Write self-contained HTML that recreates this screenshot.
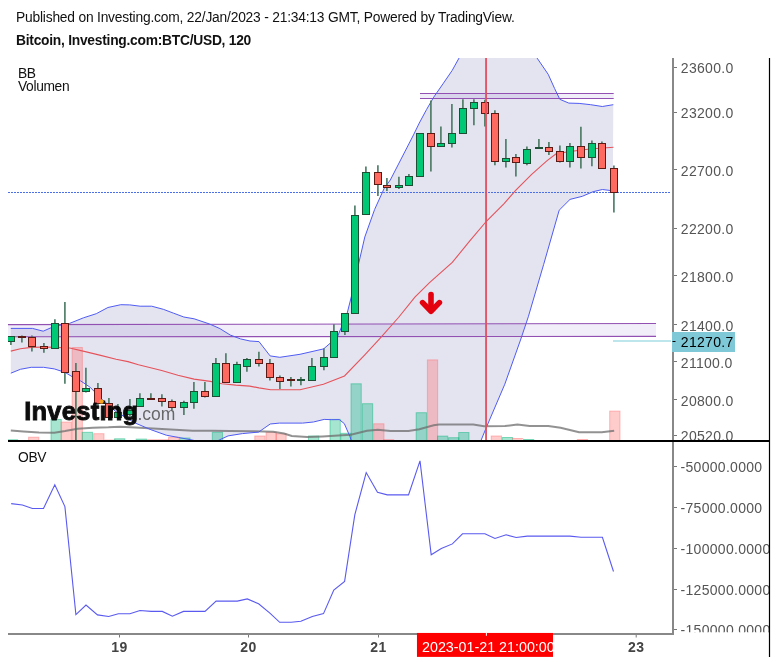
<!DOCTYPE html>
<html><head><meta charset="utf-8"><style>
html,body{margin:0;padding:0;background:#fff;width:777px;height:662px;overflow:hidden;font-family:"Liberation Sans",sans-serif;}
.t{position:absolute;will-change:transform;left:16px;font-size:13.33px;color:#111;white-space:nowrap;line-height:1}
.l{position:absolute;will-change:transform;left:18px;font-size:13.8px;letter-spacing:-0.35px;color:#111;line-height:1}
</style></head><body>
<div class="t" style="top:11px;font-size:13.8px;letter-spacing:-0.2px">Published on Investing.com, 22/Jan/2023 - 21:34:13 GMT, Powered by TradingView.</div>
<div class="t" style="top:34px;font-weight:bold;font-size:13.8px;letter-spacing:-0.25px">Bitcoin, Investing.com:BTC/USD, 120</div>
<svg width="777" height="662" viewBox="0 0 777 662" style="position:absolute;left:0;top:0;will-change:transform">
<defs><clipPath id="mp"><rect x="8" y="58" width="664" height="382"/></clipPath>
<clipPath id="op"><rect x="8" y="442" width="664" height="191"/></clipPath>
<clipPath id="ax1"><rect x="674" y="58" width="95" height="382"/></clipPath>
<clipPath id="ax2"><rect x="674" y="442" width="95" height="190.3"/></clipPath></defs>
<g clip-path="url(#mp)">
<polygon points="10.8,328.4 32.4,328.4 43.2,331.2 50.2,328.1 56.0,326.0 69.3,323.5 83.5,317.8 96.3,313.7 107.9,307.5 120.8,304.7 129.8,304.9 140.1,306.2 151.7,306.2 163.3,309.3 173.6,313.2 183.8,317.0 194.1,318.8 209.6,324.0 219.9,328.6 230.2,335.0 240.5,338.9 250.0,341.0 259.0,341.6 270.1,355.9 279.8,357.3 300.0,354.3 323.6,348.9 337.3,337.1 347.1,313.5 353.0,290.0 358.9,262.5 364.8,237.0 374.6,209.5 384.4,187.9 390.3,180.0 413.5,134.9 419.3,123.0 426.5,109.6 433.7,97.2 443.0,83.8 452.2,70.4 459.0,58.1 470.0,40.0 484.0,28.0 500.0,24.0 515.0,30.0 527.0,42.0 537.1,58.1 548.2,74.3 554.6,88.5 559.8,99.3 568.8,103.1 579.1,103.4 590.7,104.7 602.3,106.5 613.3,104.7 612.8,190.8 602.4,189.5 593.1,191.7 582.3,196.3 570.0,199.4 559.2,210.2 543.7,264.3 528.3,316.8 520.5,340.0 504.8,384.2 486.3,427.5 481.2,440.0 470.0,480.0 440.0,520.0 400.0,520.0 370.0,490.0 356.0,455.0 350.0,436.7 344.3,423.6 339.3,419.6 331.9,419.7 324.2,419.4 313.4,422.0 302.6,423.1 279.4,423.1 270.2,424.0 258.6,432.1 242.4,433.6 228.1,435.9 215.0,442.0 204.0,443.0 192.6,440.1 178.7,437.5 166.3,435.2 150.9,429.7 135.4,423.1 116.1,411.8 109.9,406.4 100.7,397.9 89.9,387.1 80.6,380.9 72.9,377.1 65.1,372.4 54.3,368.9 43.5,367.3 31.2,367.3 20.4,369.3 10.8,373.2" fill="#e4e4f1"/>
<polygon points="8,324.6 656,323.5 656,336.4 8,336.8" fill="rgba(103,58,183,0.09)"/>
<rect x="420" y="94" width="193.7" height="4" fill="rgba(103,58,183,0.09)"/>
<line x1="8" y1="324.6" x2="656" y2="323.5" stroke="#9250b2" stroke-width="1.1"/>
<line x1="8" y1="336.8" x2="656" y2="336.4" stroke="#9250b2" stroke-width="1.1"/>
<line x1="420" y1="93.5" x2="613.7" y2="93.5" stroke="#9250b2" stroke-width="1.1"/>
<line x1="420" y1="98.5" x2="613.7" y2="98.5" stroke="#9250b2" stroke-width="1.1"/>
<rect x="7.40" y="439.8" width="10.26" height="0.7" fill="rgba(0,180,120,0.35)" stroke="rgba(0,180,120,0.45)" stroke-width="1"/>
<rect x="28.60" y="437.2" width="10.26" height="3.3" fill="rgba(255,110,110,0.35)" stroke="rgba(255,110,110,0.45)" stroke-width="1"/>
<rect x="51.00" y="419.5" width="10.26" height="21.0" fill="rgba(0,180,120,0.35)" stroke="rgba(0,180,120,0.45)" stroke-width="1"/>
<rect x="61.10" y="422.1" width="10.26" height="18.4" fill="rgba(255,110,110,0.35)" stroke="rgba(255,110,110,0.45)" stroke-width="1"/>
<rect x="72.10" y="347.5" width="10.26" height="93.0" fill="rgba(255,110,110,0.35)" stroke="rgba(255,110,110,0.45)" stroke-width="1"/>
<rect x="82.20" y="432.3" width="10.26" height="8.2" fill="rgba(0,180,120,0.35)" stroke="rgba(0,180,120,0.45)" stroke-width="1"/>
<rect x="93.70" y="433.7" width="10.26" height="6.8" fill="rgba(255,110,110,0.35)" stroke="rgba(255,110,110,0.45)" stroke-width="1"/>
<rect x="104.90" y="440.0" width="10.26" height="0.5" fill="rgba(255,110,110,0.35)" stroke="rgba(255,110,110,0.45)" stroke-width="1"/>
<rect x="114.60" y="438.8" width="10.26" height="1.7" fill="rgba(0,180,120,0.35)" stroke="rgba(0,180,120,0.45)" stroke-width="1"/>
<rect x="136.20" y="439.1" width="10.26" height="1.4" fill="rgba(0,180,120,0.35)" stroke="rgba(0,180,120,0.45)" stroke-width="1"/>
<rect x="147.40" y="439.8" width="10.26" height="0.7" fill="rgba(255,110,110,0.35)" stroke="rgba(255,110,110,0.45)" stroke-width="1"/>
<rect x="158.50" y="439.8" width="10.26" height="0.7" fill="rgba(255,110,110,0.35)" stroke="rgba(255,110,110,0.45)" stroke-width="1"/>
<rect x="168.60" y="437.2" width="10.26" height="3.3" fill="rgba(255,110,110,0.35)" stroke="rgba(255,110,110,0.45)" stroke-width="1"/>
<rect x="179.70" y="438.0" width="10.26" height="2.5" fill="rgba(0,180,120,0.35)" stroke="rgba(0,180,120,0.45)" stroke-width="1"/>
<rect x="212.30" y="432.3" width="10.26" height="8.2" fill="rgba(0,180,120,0.35)" stroke="rgba(0,180,120,0.45)" stroke-width="1"/>
<rect x="254.80" y="436.0" width="10.26" height="4.5" fill="rgba(255,110,110,0.35)" stroke="rgba(255,110,110,0.45)" stroke-width="1"/>
<rect x="266.10" y="432.3" width="10.26" height="8.2" fill="rgba(255,110,110,0.35)" stroke="rgba(255,110,110,0.45)" stroke-width="1"/>
<rect x="275.90" y="433.8" width="10.26" height="6.7" fill="rgba(255,110,110,0.35)" stroke="rgba(255,110,110,0.45)" stroke-width="1"/>
<rect x="308.50" y="436.0" width="10.26" height="4.5" fill="rgba(0,180,120,0.35)" stroke="rgba(0,180,120,0.45)" stroke-width="1"/>
<rect x="330.00" y="419.4" width="10.26" height="21.1" fill="rgba(0,180,120,0.35)" stroke="rgba(0,180,120,0.45)" stroke-width="1"/>
<rect x="340.80" y="433.3" width="10.26" height="7.2" fill="rgba(0,180,120,0.35)" stroke="rgba(0,180,120,0.45)" stroke-width="1"/>
<rect x="351.00" y="383.8" width="10.26" height="56.7" fill="rgba(0,180,120,0.35)" stroke="rgba(0,180,120,0.45)" stroke-width="1"/>
<rect x="362.40" y="403.7" width="10.26" height="36.8" fill="rgba(0,180,120,0.35)" stroke="rgba(0,180,120,0.45)" stroke-width="1"/>
<rect x="373.70" y="423.8" width="10.26" height="16.7" fill="rgba(255,110,110,0.35)" stroke="rgba(255,110,110,0.45)" stroke-width="1"/>
<rect x="383.50" y="439.7" width="10.26" height="0.8" fill="rgba(255,110,110,0.35)" stroke="rgba(255,110,110,0.45)" stroke-width="1"/>
<rect x="416.20" y="412.7" width="10.26" height="27.8" fill="rgba(0,180,120,0.35)" stroke="rgba(0,180,120,0.45)" stroke-width="1"/>
<rect x="427.40" y="359.9" width="10.26" height="80.6" fill="rgba(255,110,110,0.35)" stroke="rgba(255,110,110,0.45)" stroke-width="1"/>
<rect x="437.50" y="436.1" width="10.26" height="4.4" fill="rgba(0,180,120,0.35)" stroke="rgba(0,180,120,0.45)" stroke-width="1"/>
<rect x="448.60" y="437.7" width="10.26" height="2.8" fill="rgba(0,180,120,0.35)" stroke="rgba(0,180,120,0.45)" stroke-width="1"/>
<rect x="458.70" y="432.5" width="10.26" height="8.0" fill="rgba(0,180,120,0.35)" stroke="rgba(0,180,120,0.45)" stroke-width="1"/>
<rect x="491.20" y="436.0" width="10.26" height="4.5" fill="rgba(255,110,110,0.35)" stroke="rgba(255,110,110,0.45)" stroke-width="1"/>
<rect x="502.30" y="437.5" width="10.26" height="3.0" fill="rgba(0,180,120,0.35)" stroke="rgba(0,180,120,0.45)" stroke-width="1"/>
<rect x="512.40" y="438.5" width="10.26" height="2.0" fill="rgba(255,110,110,0.35)" stroke="rgba(255,110,110,0.45)" stroke-width="1"/>
<rect x="523.50" y="439.5" width="10.26" height="1.0" fill="rgba(0,180,120,0.35)" stroke="rgba(0,180,120,0.45)" stroke-width="1"/>
<rect x="577.30" y="439.5" width="10.26" height="1.0" fill="rgba(255,110,110,0.35)" stroke="rgba(255,110,110,0.45)" stroke-width="1"/>
<rect x="609.70" y="411.1" width="10.26" height="29.4" fill="rgba(255,110,110,0.35)" stroke="rgba(255,110,110,0.45)" stroke-width="1"/>
<polyline points="10.8,430.4 23.4,431.4 38.9,432.4 54.3,432.7 65.1,431.1 77.5,428.8 92.9,427.7 108.4,427.3 120.0,426.7 135.4,427.4 166.3,429.3 192.6,430.8 212.7,430.8 230.0,431.0 253.2,431.3 273.2,431.8 284.0,433.6 291.8,436.0 307.2,437.0 322.7,436.4 338.1,435.5 350.8,434.7 367.0,430.7 377.8,429.8 390.5,431.1 408.5,431.1 419.3,429.3 433.7,425.3 439.0,424.5 448.1,424.4 473.3,424.4 484.0,426.3 505.0,426.0 517.4,424.6 529.7,426.0 548.3,426.0 560.6,427.7 579.1,432.2 601.8,432.2 614.2,430.8" fill="none" stroke="rgba(110,110,110,0.75)" stroke-width="2"/>
<polyline points="10.8,328.4 32.4,328.4 43.2,331.2 50.2,328.1 56.0,326.0 69.3,323.5 83.5,317.8 96.3,313.7 107.9,307.5 120.8,304.7 129.8,304.9 140.1,306.2 151.7,306.2 163.3,309.3 173.6,313.2 183.8,317.0 194.1,318.8 209.6,324.0 219.9,328.6 230.2,335.0 240.5,338.9 250.0,341.0 259.0,341.6 270.1,355.9 279.8,357.3 300.0,354.3 323.6,348.9 337.3,337.1 347.1,313.5 353.0,290.0 358.9,262.5 364.8,237.0 374.6,209.5 384.4,187.9 390.3,180.0 413.5,134.9 419.3,123.0 426.5,109.6 433.7,97.2 443.0,83.8 452.2,70.4 459.0,58.1 470.0,40.0 484.0,28.0 500.0,24.0 515.0,30.0 527.0,42.0 537.1,58.1 548.2,74.3 554.6,88.5 559.8,99.3 568.8,103.1 579.1,103.4 590.7,104.7 602.3,106.5 613.3,104.7" fill="none" stroke="#4f5bf2" stroke-width="1"/>
<polyline points="10.8,373.2 20.4,369.3 31.2,367.3 43.5,367.3 54.3,368.9 65.1,372.4 72.9,377.1 80.6,380.9 89.9,387.1 100.7,397.9 109.9,406.4 116.1,411.8 135.4,423.1 150.9,429.7 166.3,435.2 178.7,437.5 192.6,440.1 204.0,443.0 215.0,442.0 228.1,435.9 242.4,433.6 258.6,432.1 270.2,424.0 279.4,423.1 302.6,423.1 313.4,422.0 324.2,419.4 331.9,419.7 339.3,419.6 344.3,423.6 350.0,436.7 356.0,455.0 370.0,490.0 400.0,520.0 440.0,520.0 470.0,480.0 481.2,440.0 486.3,427.5 504.8,384.2 520.5,340.0 528.3,316.8 543.7,264.3 559.2,210.2 570.0,199.4 582.3,196.3 593.1,191.7 602.4,189.5 612.8,190.8" fill="none" stroke="#4f5bf2" stroke-width="1"/>
<polyline points="10.8,351.1 20.4,348.8 31.2,347.4 46.6,347.0 69.8,348.0 85.2,351.6 100.7,355.4 116.1,359.3 128.0,361.6 138.5,364.7 161.7,370.5 177.9,375.2 194.1,379.1 210.3,381.4 221.9,383.7 235.8,385.1 249.7,386.1 259.0,387.9 270.6,389.8 300.0,389.8 323.4,384.2 344.5,376.0 364.8,354.8 380.0,338.4 398.5,317.5 414.9,297.2 429.8,282.3 452.3,262.4 469.6,241.1 486.6,221.0 503.6,204.1 515.9,190.2 531.4,174.7 546.8,160.8 556.1,153.7 570.0,151.5 590.0,149.0 613.5,147.3" fill="none" stroke="#e5535a" stroke-width="1.1"/>
<line x1="8" y1="192.5" x2="670.5" y2="192.5" stroke="#4a6fe6" stroke-width="1" stroke-dasharray="2,1"/>
<line x1="10.9" y1="335.9" x2="10.9" y2="345.1" stroke="#477760" stroke-width="1.6"/>
<rect x="7.5" y="336.5" width="7" height="5.0" fill="#00c875" stroke="#1c4f33" stroke-width="1"/>
<line x1="21.9" y1="335.5" x2="21.9" y2="342.5" stroke="#477760" stroke-width="1.6"/>
<rect x="18.5" y="336.5" width="7" height="1.0" fill="#fe6960" stroke="#5c1a15" stroke-width="1"/>
<line x1="31.9" y1="335.5" x2="31.9" y2="351.6" stroke="#477760" stroke-width="1.6"/>
<rect x="28.5" y="337.5" width="7" height="9.0" fill="#fe6960" stroke="#5c1a15" stroke-width="1"/>
<line x1="43.9" y1="343.1" x2="43.9" y2="352.8" stroke="#477760" stroke-width="1.6"/>
<rect x="40.5" y="346.5" width="7" height="2.0" fill="#fe6960" stroke="#5c1a15" stroke-width="1"/>
<line x1="54.9" y1="319.3" x2="54.9" y2="348.4" stroke="#477760" stroke-width="1.6"/>
<rect x="51.5" y="323.5" width="7" height="25.0" fill="#00c875" stroke="#1c4f33" stroke-width="1"/>
<line x1="64.9" y1="301.9" x2="64.9" y2="383.8" stroke="#477760" stroke-width="1.6"/>
<rect x="61.5" y="323.5" width="7" height="49.0" fill="#fe6960" stroke="#5c1a15" stroke-width="1"/>
<line x1="75.9" y1="362.9" x2="75.9" y2="440.0" stroke="#477760" stroke-width="1.6"/>
<rect x="72.5" y="371.5" width="7" height="20.0" fill="#fe6960" stroke="#5c1a15" stroke-width="1"/>
<line x1="85.9" y1="367.8" x2="85.9" y2="392.4" stroke="#477760" stroke-width="1.6"/>
<rect x="82.5" y="388.5" width="7" height="3.0" fill="#00c875" stroke="#1c4f33" stroke-width="1"/>
<line x1="97.9" y1="382.9" x2="97.9" y2="406.0" stroke="#477760" stroke-width="1.6"/>
<rect x="94.5" y="388.5" width="7" height="15.0" fill="#fe6960" stroke="#5c1a15" stroke-width="1"/>
<line x1="108.9" y1="398.1" x2="108.9" y2="420.0" stroke="#477760" stroke-width="1.6"/>
<rect x="105.5" y="403.5" width="7" height="14.0" fill="#fe6960" stroke="#5c1a15" stroke-width="1"/>
<line x1="117.9" y1="404.0" x2="117.9" y2="419.0" stroke="#477760" stroke-width="1.6"/>
<rect x="114.5" y="412.5" width="7" height="5.0" fill="#00c875" stroke="#1c4f33" stroke-width="1"/>
<line x1="129.9" y1="399.0" x2="129.9" y2="417.0" stroke="#477760" stroke-width="1.6"/>
<rect x="126.5" y="410.5" width="7" height="4.0" fill="#00c875" stroke="#1c4f33" stroke-width="1"/>
<line x1="139.9" y1="393.2" x2="139.9" y2="406.4" stroke="#477760" stroke-width="1.6"/>
<rect x="136.5" y="398.5" width="7" height="8.0" fill="#00c875" stroke="#1c4f33" stroke-width="1"/>
<line x1="150.9" y1="393.3" x2="150.9" y2="399.0" stroke="#477760" stroke-width="1.6"/>
<rect x="147.5" y="398.5" width="7" height="1.0" fill="#fe6960" stroke="#5c1a15" stroke-width="1"/>
<line x1="161.9" y1="394.3" x2="161.9" y2="406.6" stroke="#477760" stroke-width="1.6"/>
<rect x="158.5" y="398.5" width="7" height="3.0" fill="#fe6960" stroke="#5c1a15" stroke-width="1"/>
<line x1="171.9" y1="399.4" x2="171.9" y2="410.3" stroke="#477760" stroke-width="1.6"/>
<rect x="168.5" y="401.5" width="7" height="6.0" fill="#fe6960" stroke="#5c1a15" stroke-width="1"/>
<line x1="183.9" y1="400.8" x2="183.9" y2="415.1" stroke="#477760" stroke-width="1.6"/>
<rect x="180.5" y="402.5" width="7" height="5.0" fill="#00c875" stroke="#1c4f33" stroke-width="1"/>
<line x1="193.9" y1="381.9" x2="193.9" y2="408.8" stroke="#477760" stroke-width="1.6"/>
<rect x="190.5" y="391.5" width="7" height="11.0" fill="#00c875" stroke="#1c4f33" stroke-width="1"/>
<line x1="204.9" y1="381.9" x2="204.9" y2="397.6" stroke="#477760" stroke-width="1.6"/>
<rect x="201.5" y="391.5" width="7" height="5.0" fill="#fe6960" stroke="#5c1a15" stroke-width="1"/>
<line x1="215.9" y1="358.0" x2="215.9" y2="396.4" stroke="#477760" stroke-width="1.6"/>
<rect x="212.5" y="363.5" width="7" height="33.0" fill="#00c875" stroke="#1c4f33" stroke-width="1"/>
<line x1="225.9" y1="353.2" x2="225.9" y2="382.4" stroke="#477760" stroke-width="1.6"/>
<rect x="222.5" y="363.5" width="7" height="19.0" fill="#fe6960" stroke="#5c1a15" stroke-width="1"/>
<line x1="236.9" y1="361.8" x2="236.9" y2="382.4" stroke="#477760" stroke-width="1.6"/>
<rect x="233.5" y="364.5" width="7" height="18.0" fill="#00c875" stroke="#1c4f33" stroke-width="1"/>
<line x1="246.9" y1="358.0" x2="246.9" y2="371.7" stroke="#477760" stroke-width="1.6"/>
<rect x="243.5" y="359.5" width="7" height="7.0" fill="#00c875" stroke="#1c4f33" stroke-width="1"/>
<line x1="258.9" y1="351.8" x2="258.9" y2="366.6" stroke="#477760" stroke-width="1.6"/>
<rect x="255.5" y="359.5" width="7" height="4.0" fill="#fe6960" stroke="#5c1a15" stroke-width="1"/>
<line x1="269.9" y1="359.0" x2="269.9" y2="380.4" stroke="#477760" stroke-width="1.6"/>
<rect x="266.5" y="363.5" width="7" height="14.0" fill="#fe6960" stroke="#5c1a15" stroke-width="1"/>
<line x1="279.9" y1="375.5" x2="279.9" y2="388.9" stroke="#477760" stroke-width="1.6"/>
<rect x="276.5" y="377.5" width="7" height="4.0" fill="#fe6960" stroke="#5c1a15" stroke-width="1"/>
<line x1="290.9" y1="376.9" x2="290.9" y2="386.5" stroke="#477760" stroke-width="1.6"/>
<rect x="287.5" y="379.5" width="7" height="1.0" fill="#fe6960" stroke="#5c1a15" stroke-width="1"/>
<line x1="300.9" y1="377.0" x2="300.9" y2="385.3" stroke="#477760" stroke-width="1.6"/>
<rect x="297.5" y="379.5" width="7" height="1.0" fill="#00c875" stroke="#1c4f33" stroke-width="1"/>
<line x1="311.9" y1="358.1" x2="311.9" y2="380.0" stroke="#477760" stroke-width="1.6"/>
<rect x="308.5" y="366.5" width="7" height="14.0" fill="#00c875" stroke="#1c4f33" stroke-width="1"/>
<line x1="323.9" y1="348.3" x2="323.9" y2="370.2" stroke="#477760" stroke-width="1.6"/>
<rect x="320.5" y="357.5" width="7" height="9.0" fill="#00c875" stroke="#1c4f33" stroke-width="1"/>
<line x1="333.9" y1="324.2" x2="333.9" y2="357.4" stroke="#477760" stroke-width="1.6"/>
<rect x="330.5" y="331.5" width="7" height="26.0" fill="#00c875" stroke="#1c4f33" stroke-width="1"/>
<line x1="344.9" y1="313.3" x2="344.9" y2="335.0" stroke="#477760" stroke-width="1.6"/>
<rect x="341.5" y="313.5" width="7" height="18.0" fill="#00c875" stroke="#1c4f33" stroke-width="1"/>
<line x1="354.9" y1="205.6" x2="354.9" y2="313.4" stroke="#477760" stroke-width="1.6"/>
<rect x="351.5" y="215.5" width="7" height="98.0" fill="#00c875" stroke="#1c4f33" stroke-width="1"/>
<line x1="365.9" y1="166.6" x2="365.9" y2="214.6" stroke="#477760" stroke-width="1.6"/>
<rect x="362.5" y="172.5" width="7" height="42.0" fill="#00c875" stroke="#1c4f33" stroke-width="1"/>
<line x1="377.9" y1="165.3" x2="377.9" y2="196.1" stroke="#477760" stroke-width="1.6"/>
<rect x="374.5" y="172.5" width="7" height="12.0" fill="#fe6960" stroke="#5c1a15" stroke-width="1"/>
<line x1="386.9" y1="178.1" x2="386.9" y2="191.0" stroke="#477760" stroke-width="1.6"/>
<rect x="383.5" y="185.5" width="7" height="2.0" fill="#fe6960" stroke="#5c1a15" stroke-width="1"/>
<line x1="398.9" y1="176.8" x2="398.9" y2="189.0" stroke="#477760" stroke-width="1.6"/>
<rect x="395.5" y="185.5" width="7" height="2.0" fill="#00c875" stroke="#1c4f33" stroke-width="1"/>
<line x1="408.9" y1="174.0" x2="408.9" y2="185.1" stroke="#477760" stroke-width="1.6"/>
<rect x="405.5" y="176.5" width="7" height="9.0" fill="#00c875" stroke="#1c4f33" stroke-width="1"/>
<line x1="419.9" y1="133.2" x2="419.9" y2="176.5" stroke="#477760" stroke-width="1.6"/>
<rect x="416.5" y="133.5" width="7" height="43.0" fill="#00c875" stroke="#1c4f33" stroke-width="1"/>
<line x1="430.9" y1="100.6" x2="430.9" y2="171.4" stroke="#477760" stroke-width="1.6"/>
<rect x="427.5" y="133.5" width="7" height="13.0" fill="#fe6960" stroke="#5c1a15" stroke-width="1"/>
<line x1="440.9" y1="126.6" x2="440.9" y2="146.6" stroke="#477760" stroke-width="1.6"/>
<rect x="437.5" y="143.5" width="7" height="3.0" fill="#00c875" stroke="#1c4f33" stroke-width="1"/>
<line x1="451.9" y1="104.1" x2="451.9" y2="147.5" stroke="#477760" stroke-width="1.6"/>
<rect x="448.5" y="133.5" width="7" height="10.0" fill="#00c875" stroke="#1c4f33" stroke-width="1"/>
<line x1="462.9" y1="99.2" x2="462.9" y2="133.6" stroke="#477760" stroke-width="1.6"/>
<rect x="459.5" y="108.5" width="7" height="25.0" fill="#00c875" stroke="#1c4f33" stroke-width="1"/>
<line x1="473.9" y1="99.2" x2="473.9" y2="125.3" stroke="#477760" stroke-width="1.6"/>
<rect x="470.5" y="102.5" width="7" height="6.0" fill="#00c875" stroke="#1c4f33" stroke-width="1"/>
<line x1="484.9" y1="99.8" x2="484.9" y2="126.6" stroke="#477760" stroke-width="1.6"/>
<rect x="481.5" y="102.5" width="7" height="11.0" fill="#fe6960" stroke="#5c1a15" stroke-width="1"/>
<line x1="494.9" y1="110.2" x2="494.9" y2="165.2" stroke="#477760" stroke-width="1.6"/>
<rect x="491.5" y="113.5" width="7" height="48.0" fill="#fe6960" stroke="#5c1a15" stroke-width="1"/>
<line x1="505.9" y1="139.1" x2="505.9" y2="167.4" stroke="#477760" stroke-width="1.6"/>
<rect x="502.5" y="158.5" width="7" height="3.0" fill="#00c875" stroke="#1c4f33" stroke-width="1"/>
<line x1="515.9" y1="154.1" x2="515.9" y2="176.5" stroke="#477760" stroke-width="1.6"/>
<rect x="512.5" y="157.5" width="7" height="5.0" fill="#fe6960" stroke="#5c1a15" stroke-width="1"/>
<line x1="526.9" y1="146.6" x2="526.9" y2="165.2" stroke="#477760" stroke-width="1.6"/>
<rect x="523.5" y="149.5" width="7" height="14.0" fill="#00c875" stroke="#1c4f33" stroke-width="1"/>
<line x1="538.9" y1="139.1" x2="538.9" y2="148.3" stroke="#477760" stroke-width="1.6"/>
<rect x="535.5" y="147.5" width="7" height="1.0" fill="#00c875" stroke="#1c4f33" stroke-width="1"/>
<line x1="548.9" y1="141.9" x2="548.9" y2="155.0" stroke="#477760" stroke-width="1.6"/>
<rect x="545.5" y="147.5" width="7" height="4.0" fill="#fe6960" stroke="#5c1a15" stroke-width="1"/>
<line x1="559.9" y1="145.5" x2="559.9" y2="162.6" stroke="#477760" stroke-width="1.6"/>
<rect x="556.5" y="151.5" width="7" height="10.0" fill="#fe6960" stroke="#5c1a15" stroke-width="1"/>
<line x1="569.9" y1="142.9" x2="569.9" y2="167.6" stroke="#477760" stroke-width="1.6"/>
<rect x="566.5" y="146.5" width="7" height="15.0" fill="#00c875" stroke="#1c4f33" stroke-width="1"/>
<line x1="580.9" y1="126.8" x2="580.9" y2="168.6" stroke="#477760" stroke-width="1.6"/>
<rect x="577.5" y="146.5" width="7" height="11.0" fill="#fe6960" stroke="#5c1a15" stroke-width="1"/>
<line x1="591.9" y1="140.4" x2="591.9" y2="166.3" stroke="#477760" stroke-width="1.6"/>
<rect x="588.5" y="143.5" width="7" height="14.0" fill="#00c875" stroke="#1c4f33" stroke-width="1"/>
<line x1="601.9" y1="141.4" x2="601.9" y2="168.6" stroke="#477760" stroke-width="1.6"/>
<rect x="598.5" y="143.5" width="7" height="25.0" fill="#fe6960" stroke="#5c1a15" stroke-width="1"/>
<line x1="613.9" y1="165.6" x2="613.9" y2="212.4" stroke="#477760" stroke-width="1.6"/>
<rect x="610.5" y="168.5" width="7" height="24.0" fill="#fe6960" stroke="#5c1a15" stroke-width="1"/>
<g font-family="Liberation Sans, sans-serif">
<text x="24.2" y="419.5" font-size="25.5px" font-weight="bold" fill="#000" stroke="#000" stroke-width="0.9" opacity="0.95" letter-spacing="0.25">Investing</text>
<text x="137.5" y="420" font-size="17.5px" fill="#5a5a5a" opacity="0.9">.com</text>
</g>
<circle cx="101.5" cy="401.5" r="2.2" fill="#f5a623"/>
<g stroke="#e3000f" stroke-width="5.6" stroke-linecap="round" stroke-linejoin="round" fill="none"><line x1="431" y1="294.6" x2="431" y2="310"/><polyline points="422.6,302.6 431,311.2 439.4,302.6"/></g>
<line x1="486.05" y1="58" x2="486.05" y2="440" stroke="#e34f5e" stroke-width="1.8"/>
<line x1="613" y1="341" x2="671" y2="341" stroke="#a6dce6" stroke-width="1.6"/>
</g>
<g clip-path="url(#op)"><polyline points="11.2,503.6 22.4,505.0 32.4,508.5 43.5,508.5 54.8,484.8 64.9,506.6 75.9,614.6 86.0,605.1 97.5,614.9 108.7,616.5 118.4,613.8 129.9,613.8 140.0,610.5 151.2,611.4 162.3,611.4 172.4,616.2 183.5,611.4 193.5,611.4 205.0,611.4 216.1,601.1 226.2,601.1 237.3,601.1 247.3,598.9 258.6,603.8 269.9,613.2 279.7,622.3 291.2,622.3 300.9,621.3 312.3,616.4 323.5,613.6 333.8,590.1 344.6,581.4 354.8,514.8 366.2,472.6 377.5,492.2 387.3,494.9 398.8,494.9 408.5,494.9 420.0,460.9 431.2,554.8 441.3,548.5 452.4,543.9 462.5,533.8 473.6,533.8 484.9,533.8 495.0,538.5 506.1,534.8 516.2,537.5 527.3,536.1 538.5,536.1 548.6,536.1 559.6,536.1 569.9,536.1 581.1,537.3 592.4,537.3 602.4,537.3 613.5,571.5" fill="none" stroke="#5a5af0" stroke-width="1.1"/></g>
<line x1="673" y1="58" x2="673" y2="635" stroke="#888" stroke-width="2"/>
<line x1="8" y1="634" x2="674" y2="634" stroke="#888" stroke-width="2"/>
<line x1="8" y1="441" x2="770" y2="441" stroke="#000" stroke-width="2"/>
<line x1="769.5" y1="58" x2="769.5" y2="657" stroke="#000" stroke-width="1.2"/>
<g clip-path="url(#ax1)" font-family="Liberation Sans, sans-serif" font-size="14px" letter-spacing="0.3" fill="#555">
<line x1="674" y1="67.5" x2="677" y2="67.5" stroke="#777" stroke-width="1"/>
<text x="680.8" y="73.3">23600.0</text>
<line x1="674" y1="112.5" x2="677" y2="112.5" stroke="#777" stroke-width="1"/>
<text x="680.8" y="118.3">23200.0</text>
<line x1="674" y1="169.5" x2="677" y2="169.5" stroke="#777" stroke-width="1"/>
<text x="680.8" y="175.6">22700.0</text>
<line x1="674" y1="228.5" x2="677" y2="228.5" stroke="#777" stroke-width="1"/>
<text x="680.8" y="234.1">22200.0</text>
<line x1="674" y1="275.5" x2="677" y2="275.5" stroke="#777" stroke-width="1"/>
<text x="680.8" y="282.0">21800.0</text>
<line x1="674" y1="324.5" x2="677" y2="324.5" stroke="#777" stroke-width="1"/>
<text x="680.8" y="330.7">21400.0</text>
<line x1="674" y1="361.5" x2="677" y2="361.5" stroke="#777" stroke-width="1"/>
<text x="680.8" y="367.8">21100.0</text>
<line x1="674" y1="399.5" x2="677" y2="399.5" stroke="#777" stroke-width="1"/>
<text x="680.8" y="405.5">20800.0</text>
<line x1="674" y1="435.5" x2="677" y2="435.5" stroke="#777" stroke-width="1"/>
<text x="680.8" y="441.1">20520.0</text>
</g>
<rect x="672" y="332" width="63" height="20" fill="#7ec8d8"/>
<line x1="672.5" y1="341.5" x2="675.5" y2="341.5" stroke="#000" stroke-width="1"/>
<text x="680.8" y="346.7" fill="#000" font-family="Liberation Sans, sans-serif" font-size="14px" letter-spacing="0.3">21270.7</text>
<g clip-path="url(#ax2)" font-family="Liberation Sans, sans-serif" font-size="14px" letter-spacing="0.3" fill="#555">
<line x1="674" y1="466.5" x2="677" y2="466.5" stroke="#777" stroke-width="1"/>
<text x="680.5" y="472.2">-50000.0000</text>
<line x1="674" y1="507.5" x2="677" y2="507.5" stroke="#777" stroke-width="1"/>
<text x="680.5" y="513.0">-75000.0000</text>
<line x1="674" y1="548.5" x2="677" y2="548.5" stroke="#777" stroke-width="1"/>
<text x="680.5" y="553.8">-100000.0000</text>
<line x1="674" y1="589.5" x2="677" y2="589.5" stroke="#777" stroke-width="1"/>
<text x="680.5" y="594.6">-125000.0000</text>
<line x1="674" y1="629.5" x2="677" y2="629.5" stroke="#777" stroke-width="1"/>
<text x="680.5" y="635.4">-150000.0000</text>
</g>
<g font-family="Liberation Sans, sans-serif" font-size="14px" font-weight="bold" fill="#444" text-anchor="middle" letter-spacing="0.4">
<line x1="119.5" y1="635" x2="119.5" y2="637.5" stroke="#777" stroke-width="1"/>
<text x="119.5" y="652">19</text>
<line x1="248.5" y1="635" x2="248.5" y2="637.5" stroke="#777" stroke-width="1"/>
<text x="248.5" y="652">20</text>
<line x1="378.5" y1="635" x2="378.5" y2="637.5" stroke="#777" stroke-width="1"/>
<text x="378.5" y="652">21</text>
<line x1="636.2" y1="635" x2="636.2" y2="637.5" stroke="#777" stroke-width="1"/>
<text x="636.2" y="652">23</text>
</g>
<svg x="416.8" y="632.8" width="136.3" height="24.1"><rect width="136.3" height="24.1" fill="#ff0000"/><line x1="69.6" y1="0" x2="69.6" y2="3" stroke="#fff" stroke-width="1"/><text x="5.2" y="19" font-family="Liberation Sans, sans-serif" font-size="14.3px" fill="#fff">2023-01-21 21:00:00</text></svg>
</svg>
<div class="l" style="top:66.7px">BB</div>
<div class="l" style="top:80.2px">Volumen</div>
<div class="l" style="top:451px">OBV</div>
</body></html>
